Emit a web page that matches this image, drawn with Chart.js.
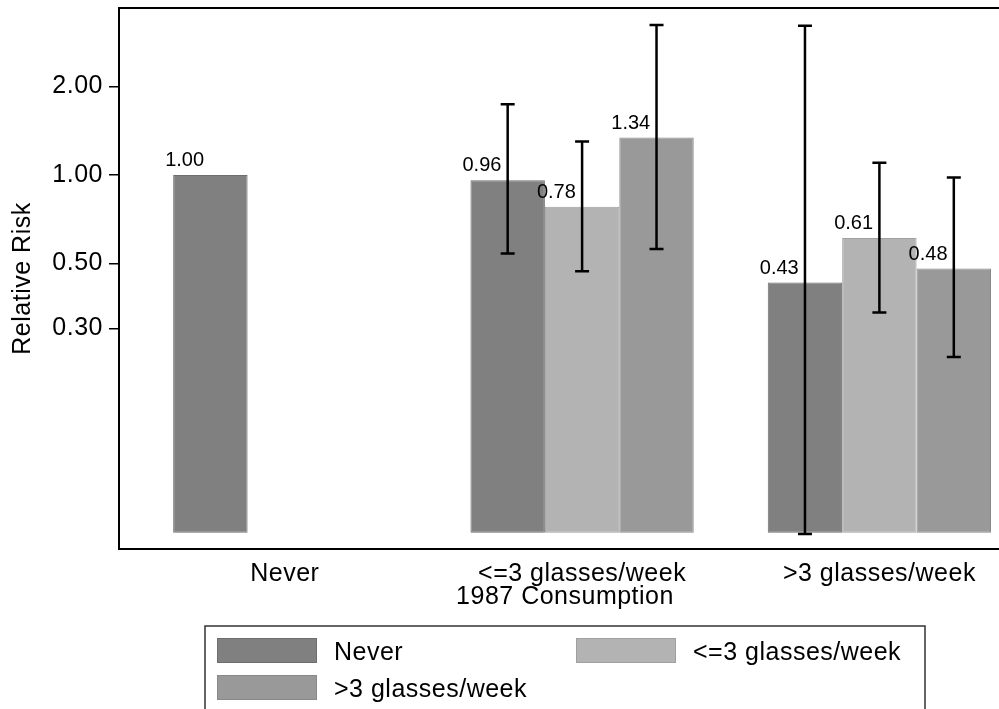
<!DOCTYPE html>
<html>
<head>
<meta charset="utf-8">
<title>Relative Risk by 1987 Consumption</title>
<script src="https://cdn.jsdelivr.net/npm/chart.js@4/dist/chart.umd.min.js"></script>
<style>
  html, body { margin: 0; padding: 0; background: #fff; overflow: hidden; }
  #wrap { width: 1011px; height: 709px; }
</style>
</head>
<body>
<div id="wrap"><canvas id="c" width="1011" height="709"></canvas></div>
<script>
// Groups along the x axis (1987 consumption) and the series within each group
const categories = ['Never', '<=3 glasses/week', '>3 glasses/week'];
const seriesNames = ['Never', '<=3 glasses/week', '>3 glasses/week'];

// Relative risk point estimates per group
const rrNever = [1.00, 0.96, 0.43];
const rrLight = [null, 0.78, 0.61];
const rrHeavy = [null, 1.34, 0.48];

// 95% confidence limits
const ciLowNever  = [null, 0.54, 0.06];
const ciHighNever = [null, 1.74, 3.22];
const ciLowLight  = [null, 0.47, 0.34];
const ciHighLight = [null, 1.30, 1.10];
const ciLowHeavy  = [null, 0.56, 0.24];
const ciHighHeavy = [null, 3.24, 0.98];

// Labelled ticks of the log-scaled risk axis
const yTickValues = [0.30, 0.50, 1.00, 2.00];

// Value the bars rise from on the log axis
const barBase = 0.0605;

const FONT = "'Liberation Sans', Arial, Helvetica, sans-serif";
const SPACING = '0.5px';

function toPoints(values) {
  return categories.map((_, i) => ({ x: i, y: values[i] }));
}

// Value labels, error bars, plot frame and boxed legend
const decor = {
  id: 'decor',
  beforeLayout(chart) { chart.ctx.letterSpacing = SPACING; },
  beforeDraw(chart) { chart.ctx.letterSpacing = SPACING; },
  afterDatasetsDraw(chart) {
    const ctx = chart.ctx;
    const yScale = chart.scales.y;
    ctx.save();
    ctx.font = '20px ' + FONT;
    ctx.letterSpacing = '0px';
    ctx.fillStyle = '#000';
    ctx.textAlign = 'left';
    ctx.textBaseline = 'alphabetic';
    chart.data.datasets.forEach((ds, i) => {
      chart.getDatasetMeta(i).data.forEach((bar, j) => {
        const v = ds.data[j].y;
        if (v == null) return;
        ctx.fillText(v.toFixed(2), bar.x - bar.width / 2 - 8, bar.y - 9);
      });
    });
    ctx.strokeStyle = '#000';
    ctx.lineWidth = 2.5;
    chart.data.datasets.forEach((ds, i) => {
      chart.getDatasetMeta(i).data.forEach((bar, j) => {
        const lo = ds.ciLow[j], hi = ds.ciHigh[j];
        if (lo == null || hi == null) return;
        const yl = yScale.getPixelForValue(lo);
        const yh = yScale.getPixelForValue(hi);
        const x = bar.x;
        ctx.beginPath();
        ctx.moveTo(x, yl); ctx.lineTo(x, yh);
        ctx.moveTo(x - 7, yl); ctx.lineTo(x + 7, yl);
        ctx.moveTo(x - 7, yh); ctx.lineTo(x + 7, yh);
        ctx.stroke();
      });
    });
    ctx.restore();
  },
  afterDraw(chart) {
    const ctx = chart.ctx;
    const a = chart.chartArea;
    ctx.save();
    // plot frame
    ctx.strokeStyle = '#000';
    ctx.lineWidth = 2;
    ctx.beginPath();
    ctx.moveTo(chart.width, a.top); ctx.lineTo(a.left, a.top);
    ctx.lineTo(a.left, a.bottom); ctx.lineTo(chart.width, a.bottom);
    ctx.stroke();

    // legend box with two columns
    const boxW = 720;
    const left = (a.left + a.right) / 2 - boxW / 2;
    const top = 626;
    ctx.strokeStyle = '#333';
    ctx.lineWidth = 1.5;
    ctx.strokeRect(left, top, boxW, 200);
    ctx.font = '25px ' + FONT;
    ctx.letterSpacing = SPACING;
    ctx.textAlign = 'left';
    ctx.textBaseline = 'alphabetic';
    chart.data.datasets.forEach((ds, i) => {
      const col = i % 2, row = Math.floor(i / 2);
      const sx = left + 12 + col * 359;
      const sy = top + 12 + row * 37;
      ctx.fillStyle = ds.backgroundColor;
      ctx.fillRect(sx, sy, 100, 25);
      ctx.strokeStyle = ds.borderColor;
      ctx.lineWidth = 1;
      ctx.strokeRect(sx + 0.5, sy + 0.5, 99, 24);
      ctx.fillStyle = '#000';
      ctx.fillText(ds.label, sx + 117, sy + 22);
    });
    ctx.restore();
  }
};

const common = {
  borderWidth: 1,
  borderSkipped: false,
  base: barBase,
  barPercentage: 1,
  categoryPercentage: 0.751
};

new Chart(document.getElementById('c'), {
  type: 'bar',
  data: {
    datasets: [
      Object.assign({ label: seriesNames[0], data: toPoints(rrNever), ciLow: ciLowNever, ciHigh: ciHighNever,
        backgroundColor: '#808080', borderColor: '#6e6e6e' }, common),
      Object.assign({ label: seriesNames[1], data: toPoints(rrLight), ciLow: ciLowLight, ciHigh: ciHighLight,
        backgroundColor: '#b3b3b3', borderColor: '#a0a0a0' }, common),
      Object.assign({ label: seriesNames[2], data: toPoints(rrHeavy), ciLow: ciLowHeavy, ciHigh: ciHighHeavy,
        backgroundColor: '#999999', borderColor: '#888888' }, common)
    ]
  },
  options: {
    responsive: false,
    animation: false,
    layout: { padding: { top: 8, left: 0, right: 0, bottom: 0 } },
    plugins: { legend: { display: false }, tooltip: { enabled: false } },
    scales: {
      x: {
        type: 'linear',
        min: -0.5577,
        max: 2.4427,
        offset: false,
        afterBuildTicks: s => { s.ticks = categories.map((_, i) => ({ value: i })); },
        afterFit: s => { s.height = 160; s.paddingLeft = 0; s.paddingRight = 0; },
        ticks: {
          callback: (v, i) => categories[i],
          font: { family: FONT, size: 25 },
          color: '#000',
          padding: 10,
          autoSkip: false,
          maxRotation: 0,
          minRotation: 0
        },
        grid: { display: false, drawTicks: false, tickLength: 0 },
        border: { display: false },
        title: {
          display: true,
          text: '1987 Consumption',
          font: { family: FONT, size: 25 },
          color: '#000',
          padding: { top: 0, bottom: 97 }
        }
      },
      y: {
        type: 'logarithmic',
        min: 0.0533,
        max: 3.70,
        afterBuildTicks: s => { s.ticks = yTickValues.map(v => ({ value: v })); },
        afterFit: s => { s.width = 119; s.paddingTop = 0; s.paddingBottom = 0; },
        ticks: {
          callback: v => Number(v).toFixed(2),
          font: { family: FONT, size: 25 },
          color: '#000',
          padding: 6,
          autoSkip: false
        },
        grid: { drawOnChartArea: false, drawTicks: true, tickLength: 10, color: '#000', lineWidth: 1.5 },
        border: { display: false },
        title: {
          display: true,
          text: 'Relative Risk',
          font: { family: FONT, size: 25 },
          color: '#000',
          padding: { top: 8, bottom: 0 }
        }
      }
    }
  },
  plugins: [decor]
});
</script>
</body>
</html>
